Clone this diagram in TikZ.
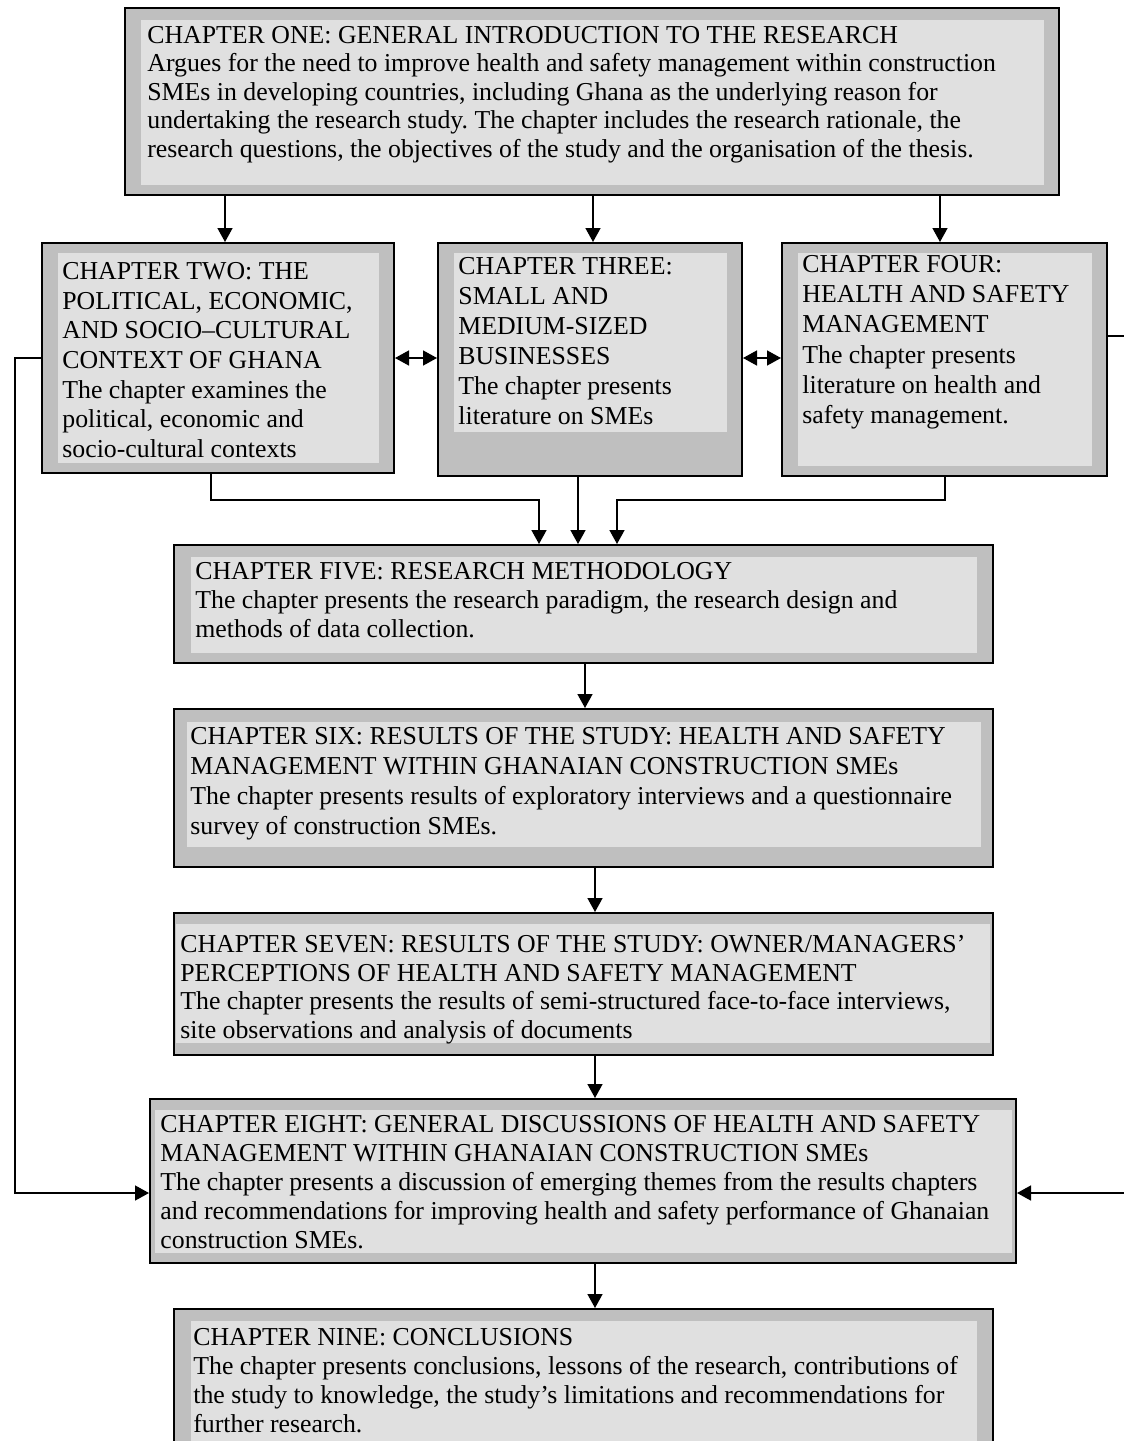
\documentclass[tikz,border=0pt]{standalone}
\usepackage{fontspec}
\setmainfont{Liberation Serif}
\usetikzlibrary{arrows.meta,fit}
\frenchspacing

\definecolor{frame}{gray}{0.75}
\definecolor{panel}{gray}{0.88}

\tikzset{
  outerbox/.style={draw=black, line width=1pt, fill=frame, inner sep=0pt, rectangle},
  innerbox/.style={fill=panel, inner sep=0pt, rectangle},
  txt/.style={anchor=north west, inner sep=0pt, align=left},
  arr/.style={-{Triangle[length=7pt,width=7.5pt]}, line width=0.75pt},
  dbl/.style={{Triangle[length=7pt,width=7.5pt]}-{Triangle[length=7pt,width=7.5pt]}, line width=0.75pt},
}
\newcommand{\chfont}[1]{\fontsize{12.9}{#1}\selectfont}

\begin{document}
\begin{tikzpicture}[x=0.5pt,y=-0.5pt]
\useasboundingbox (0,0) rectangle (1124,1441);
\fill[white] (0,0) rectangle (1124,1441);

% chapter boxes: outer frame, inner panel, text
\node[outerbox, fit={(125,8) (1059,195)}] (c1) {};
\node[innerbox, fit={(141,20) (1044,185)}] (p1) {};
\node[txt, font=\chfont{14.25pt}] (t1) at (147,26) {CHAPTER ONE: GENERAL INTRODUCTION TO THE RESEARCH\\
Argues for the need to improve health and safety management within construction\\
SMEs in developing countries, including Ghana as the underlying reason for\\
undertaking the research study. The chapter includes the research rationale, the\\
research questions, the objectives of the study and the organisation of the thesis.};

\node[outerbox, fit={(42,243) (394,473)}] (c2) {};
\node[innerbox, fit={(58,253) (379,463)}] (p2) {};
\node[txt, font=\chfont{14.85pt}] (t2) at (62,262) {CHAPTER TWO: THE\\
POLITICAL, ECONOMIC,\\
AND SOCIO–CULTURAL\\
CONTEXT OF GHANA\\
The chapter examines the\\
political, economic and\\
socio-cultural contexts};

\node[outerbox, fit={(438,243) (742,476)}] (c3) {};
\node[innerbox, fit={(454,253) (727,432)}] (p3) {};
\node[txt, font=\chfont{15pt}] (t3) at (458,257) {CHAPTER THREE:\\
SMALL AND\\
MEDIUM-SIZED\\
BUSINESSES\\
The chapter presents\\
literature on SMEs};

\node[outerbox, fit={(782,243) (1107,476)}] (c4) {};
\node[innerbox, fit={(798,253) (1092,466)}] (p4) {};
\node[txt, font=\chfont{15.1pt}] (t4) at (802,255) {CHAPTER FOUR:\\
HEALTH AND SAFETY\\
MANAGEMENT\\
The chapter presents\\
literature on health and\\
safety management.};

\node[outerbox, fit={(174,545) (993,663)}] (c5) {};
\node[innerbox, fit={(191,557) (977,653)}] (p5) {};
\node[txt, font=\chfont{14.5pt}] (t5) at (195,562) {CHAPTER FIVE: RESEARCH METHODOLOGY\\
The chapter presents the research paradigm, the research design and\\
methods of data collection.};

\node[outerbox, fit={(174,709) (993,867)}] (c6) {};
\node[innerbox, fit={(187,722) (981,847)}] (p6) {};
\node[txt, font=\chfont{15pt}] (t6) at (190,727) {CHAPTER SIX: RESULTS OF THE STUDY: HEALTH AND SAFETY\\
MANAGEMENT WITHIN GHANAIAN CONSTRUCTION SMEs\\
The chapter presents results of exploratory interviews and a questionnaire\\
survey of construction SMEs.};

\node[outerbox, fit={(174,913) (993,1055)}] (c7) {};
\node[innerbox, fit={(176,924) (990,1043)}] (p7) {};
\node[txt, font=\chfont{14.35pt}] (t7) at (180,935) {CHAPTER SEVEN: RESULTS OF THE STUDY: OWNER/MANAGERS’\\
PERCEPTIONS OF HEALTH AND SAFETY MANAGEMENT\\
The chapter presents the results of semi-structured face-to-face interviews,\\
site observations and analysis of documents};

\node[outerbox, fit={(150,1099) (1016,1263)}] (c8) {};
\node[innerbox, fit={(155,1110) (1012,1253)}] (p8) {};
\node[txt, font=\chfont{14.5pt}] (t8) at (160,1115) {CHAPTER EIGHT: GENERAL DISCUSSIONS OF HEALTH AND SAFETY\\
MANAGEMENT WITHIN GHANAIAN CONSTRUCTION SMEs\\
The chapter presents a discussion of emerging themes from the results chapters\\
and recommendations for improving health and safety performance of Ghanaian\\
construction SMEs.};

\node[outerbox, fit={(174,1309) (993,1470)}] (c9) {};
\node[innerbox, fit={(191,1321) (977,1460)}] (p9) {};
\node[txt, font=\chfont{14.5pt}] (t9) at (193,1328) {CHAPTER NINE: CONCLUSIONS\\
The chapter presents conclusions, lessons of the research, contributions of\\
the study to knowledge, the study’s limitations and recommendations for\\
further research.};

% connector lanes
\coordinate (l1) at (225,0);
\coordinate (l2) at (593,0);
\coordinate (l3) at (940,0);
\coordinate (l4) at (211,0);
\coordinate (l5) at (539,0);
\coordinate (l6) at (578,0);
\coordinate (l7) at (945,0);
\coordinate (l8) at (617,0);
\coordinate (l9) at (585,0);
\coordinate (l10) at (595,0);
\coordinate (ya) at (0,1193);
\coordinate (yb) at (0,336);
\coordinate (yc) at (0,358);

% chapter one feeds the three literature chapters
\draw[arr] (c1.south -| l1) -- (c2.north -| l1);
\draw[arr] (c1.south -| l2) -- (c3.north -| l2);
\draw[arr] (c1.south -| l3) -- (c4.north -| l3);

% links between literature chapters
\draw[dbl] (c2.east |- yc) -- (c3.west |- yc);
\draw[dbl] (c3.east |- yc) -- (c4.west |- yc);

% literature chapters into methodology
\draw[arr] (c2.south -| l4) -- ++(0,26) -| (c5.north -| l5);
\draw[arr] (c3.south -| l6) -- (c5.north -| l6);
\draw[arr] (c4.south -| l7) -- ++(0,23) -| (c5.north -| l8);

% main sequence
\draw[arr] (c5.south -| l9) -- (c6.north -| l9);
\draw[arr] (c6.south -| l10) -- (c7.north -| l10);
\draw[arr] (c7.south -| l10) -- (c8.north -| l10);
\draw[arr] (c8.south -| l10) -- (c9.north -| l10);

% side loops into the discussion chapter
\draw[arr] (c2.west) -- ++(-26,0) |- (c8.west |- ya);
\draw[arr] (c4.east |- yb) -- ++(40,0) |- (c8.east |- ya);
\end{tikzpicture}
\end{document}
